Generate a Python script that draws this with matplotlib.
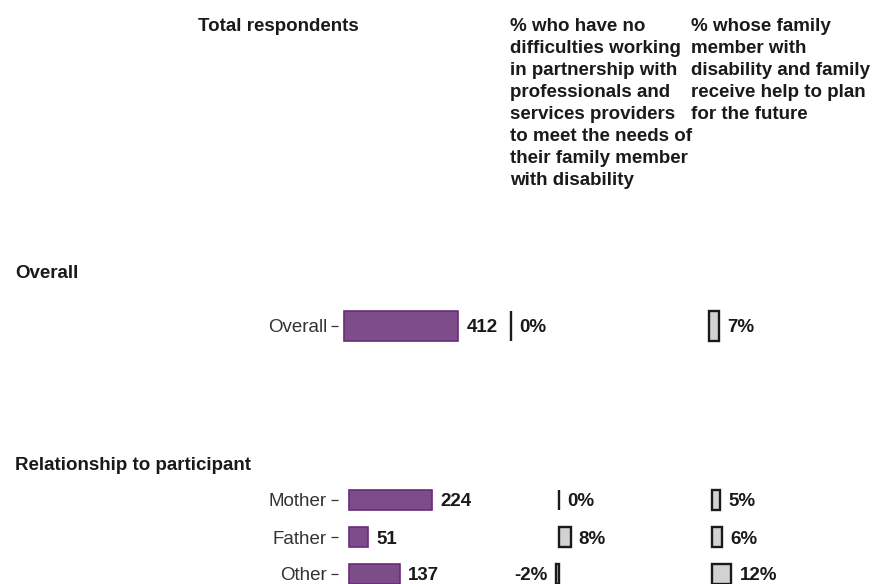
import matplotlib
matplotlib.use("Agg")
from matplotlib import pyplot as plt

plt.rcParams['font.family'] = ['Liberation Sans', 'DejaVu Sans']

# data
headers = ["Total respondents",
           "% who have no\ndifficulties working\nin partnership with\nprofessionals and\nservices providers\nto meet the needs of\ntheir family member\nwith disability",
           "% whose family\nmember with\ndisability and family\nreceive help to plan\nfor the future"]
sections = ["Overall", "Relationship to participant"]
overall_labels = ["Overall"]
overall_total = [412]
overall_no_diff = [0]
overall_plan = [7]
rel_labels = ["Mother", "Father", "Other"]
rel_total = [224, 51, 137]
rel_no_diff = [0, 8, -2]
rel_plan = [5, 6, 12]

W, H = 884, 584
fig = plt.figure(figsize=(W / 100, H / 100), dpi=100)
FS = 13.5
PURPLE, PURPLE_EDGE = "#7d4d8a", "#6a2b7a"
GREY, GREY_EDGE = "#d2d2d2", "#1a1a1a"


def px_axes(x, y, w, h):
    ax = fig.add_axes([x / W, 1 - (y + h) / H, w / W, h / H])
    ax.patch.set_visible(False)
    return ax


def clean(ax):
    for s in ax.spines.values():
        s.set_visible(False)
    ax.set_xticks([])


def total_panel(labels, vals, zero, scale, top, row_h, bar_h):
    n = len(labels)
    ax = px_axes(338, top, 160, n * row_h)
    ax.barh(range(n), vals, height=bar_h, color=PURPLE, edgecolor=PURPLE_EDGE, linewidth=1.2)
    ax.set_xlim(-(zero - 338) / scale, (160 - (zero - 338)) / scale)
    ax.set_ylim(n - 0.5, -0.5)
    clean(ax)
    ax.set_yticks(range(n))
    ax.set_yticklabels(labels, fontsize=FS, color="#333333", va="center_baseline")
    ax.tick_params(axis="y", length=5, width=0.9, color="#333333", pad=3)
    for i, v in enumerate(vals):
        ax.annotate(str(v), (v, i), xytext=(6, 0), textcoords="offset points",
                    ha="left", va="center_baseline", fontsize=FS, fontweight="bold",
                    color="#1a1a1a", annotation_clip=False)
    return ax


def pct_panel(vals, zero, scale, top, row_h, bar_h):
    n = len(vals)
    ax = px_axes(zero - 60, top, 160, n * row_h)
    ax.barh(range(n), vals, height=bar_h, color=GREY, edgecolor=GREY_EDGE, linewidth=1.7)
    ax.set_xlim(-60 / scale, 100 / scale)
    ax.set_ylim(n - 0.5, -0.5)
    clean(ax)
    ax.set_yticks([])
    for i, v in enumerate(vals):
        off = 6 if v >= 0 else -6
        ax.annotate(f"{v}%", (v, i), xytext=(off, 0), textcoords="offset points",
                    ha="left" if v >= 0 else "right", va="center_baseline",
                    fontsize=FS, fontweight="bold", color="#1a1a1a")
    return ax


# column headers
for x, txt in zip([198, 510, 691], headers):
    fig.text(x / W, 1 - 18 / H, txt, ha="left", va="top", fontsize=FS,
             fontweight="bold", color="#1a1a1a", linespacing=1.39)

# section headers
for y, txt in zip([273, 466], sections):
    fig.text(15 / W, 1 - y / H, txt, ha="left", va="center", fontsize=FS,
             fontweight="bold", color="#1a1a1a")

# Overall section
total_panel(overall_labels, overall_total, 344, 114 / 412, 306, 40, 0.76)
pct_panel(overall_no_diff, 511, 1.5, 306, 40, 0.76)
pct_panel(overall_plan, 709, 1.45, 306, 40, 0.76)

# Relationship section
total_panel(rel_labels, rel_total, 349, 83 / 224, 481.5, 37, 0.53)
pct_panel(rel_no_diff, 558.5, 1.5, 481.5, 37, 0.53)
pct_panel(rel_plan, 712, 1.6, 481.5, 37, 0.53)

fig.savefig("out.png", dpi=100)
